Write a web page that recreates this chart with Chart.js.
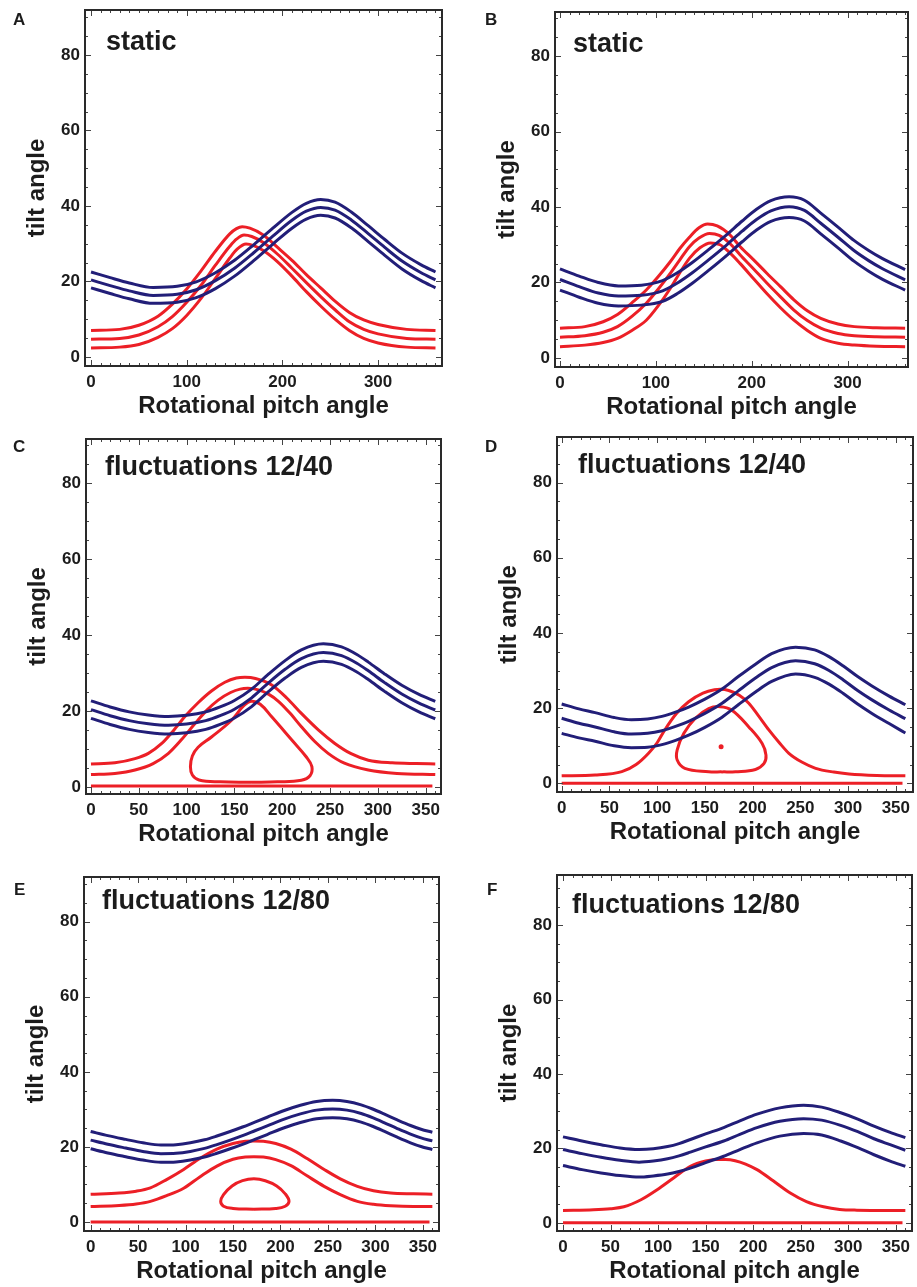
<!DOCTYPE html>
<html>
<head>
<meta charset="utf-8">
<script src="https://cdn.jsdelivr.net/npm/chart.js@4.4.0/dist/chart.umd.min.js"></script>
<style>
  html, body { margin: 0; padding: 0; background: #fff; overflow: hidden; }
  body { width: 917px; height: 1287px; position: relative; }
  canvas { position: absolute; }
</style>
</head>
<body>
<script>
// tick labels
const yTicks = [0, 20, 40, 60, 80];
const xTicksWide = [0, 100, 200, 300];
const xTicksFine = [0, 50, 100, 150, 200, 250, 300, 350];

const panelLetters = ['A', 'B', 'C', 'D', 'E', 'F'];
const panelTitles = ['static', 'static', 'fluctuations 12/40', 'fluctuations 12/40', 'fluctuations 12/80', 'fluctuations 12/80'];

// curves as [pitch, tilt] pairs
// A - static
const blueA1 = [[0,22.5],[20,21],[40,19.6],[65,18.4],[90,18.7],[110,19.9],[130,22.3],[150,25.6],[170,29.7],[190,34.1],[210,38.3],[225,40.7],[240,41.7],[255,41],[272,38.4],[290,34.7],[307,31.1],[325,27.5],[345,24.4],[360,22.5]];
const blueA2 = [[0,20.4],[20,18.9],[40,17.5],[65,16.3],[90,16.6],[110,17.8],[130,20.2],[150,23.5],[170,27.6],[190,32],[210,36.2],[225,38.6],[240,39.6],[255,38.9],[272,36.3],[290,32.6],[307,29],[325,25.4],[345,22.3],[360,20.4]];
const blueA3 = [[0,18.3],[20,16.8],[40,15.4],[65,14.2],[90,14.5],[110,15.7],[130,18.1],[150,21.4],[170,25.5],[190,29.9],[210,34.1],[225,36.5],[240,37.5],[255,36.8],[272,34.2],[290,30.5],[307,26.9],[325,23.3],[345,20.2],[360,18.3]];
const redA1 = [[0,7],[30,7.3],[50,8.4],[70,10.8],[85,14],[100,18],[115,22.8],[130,28],[145,32.6],[152,34],[158,34.5],[166,34.1],[180,32.3],[195,29],[210,25.6],[225,21.8],[240,18.3],[255,14.8],[270,11.8],[285,9.8],[300,8.6],[330,7.3],[360,7]];
const redA2 = [[0,4.7],[30,4.9],[50,5.8],[70,8],[85,10.7],[100,14.5],[115,19],[130,24.3],[145,29.3],[152,31.2],[160,32.3],[168,31.9],[180,30.3],[195,27.2],[210,23.5],[225,19.7],[240,16],[255,12.5],[270,9.3],[285,7.3],[300,6.1],[330,4.9],[360,4.7]];
const redA3 = [[0,2.4],[30,2.6],[50,3.3],[70,5.2],[85,7.5],[100,11],[115,15.5],[130,20.8],[145,26.2],[153,28.6],[162,29.9],[170,29.5],[180,28.2],[195,25.2],[210,21.4],[225,17.3],[240,13.5],[255,10],[270,7],[285,4.9],[300,3.7],[330,2.6],[360,2.4]];

// B - static
const blueB1 = [[0,23.6],[20,21.7],[40,20],[61,19.1],[85,19.3],[107,20.5],[122,22.5],[138,25.3],[155,28.7],[174,32.7],[190,36.3],[205,39.4],[220,41.7],[239,42.7],[255,41.8],[272,38.4],[290,34.7],[307,31.1],[322,28.5],[336,26.4],[360,23.4]];
const blueB2 = [[0,20.8],[20,18.9],[40,17.2],[61,16.4],[85,16.6],[107,17.8],[122,19.8],[138,22.6],[155,26],[174,30],[190,33.6],[205,36.7],[220,39],[239,40.1],[255,39.1],[272,35.7],[290,32],[307,28.4],[322,25.8],[336,23.7],[360,20.7]];
const blueB3 = [[0,18],[20,16.1],[40,14.5],[61,13.8],[85,14],[107,15],[122,17],[138,19.8],[155,23.2],[174,27.2],[190,30.8],[205,33.9],[220,36.2],[239,37.2],[255,36.3],[272,32.9],[290,29.2],[307,25.6],[322,23],[336,20.9],[360,18]];
const redB1 = [[0,7.9],[26,8.3],[45,9.6],[60,11.5],[75,14.6],[90,18],[103,21.7],[115,25.5],[125,29],[135,32],[145,34.5],[154,35.5],[164,35],[177,32.7],[188,29.5],[202,26],[216,22.4],[230,18.9],[244,15.4],[258,12.5],[272,10.5],[290,9],[307,8.3],[330,8],[360,7.9]];
const redB2 = [[0,5.5],[26,5.9],[45,6.8],[60,8.3],[75,11],[90,14.5],[103,18.4],[115,22.4],[125,26],[135,29.5],[145,31.8],[156,33],[166,32.5],[177,30.4],[188,27.3],[202,23.6],[216,19.8],[230,16.2],[244,12.7],[258,9.9],[272,7.9],[290,6.5],[307,5.9],[330,5.6],[360,5.5]];
const redB3 = [[0,3],[26,3.4],[45,4.1],[60,5.2],[75,7.3],[90,10],[103,14],[115,18.4],[125,22.6],[135,26.4],[146,29.2],[157,30.5],[167,30],[177,27.9],[188,25],[202,21],[216,17],[230,13.3],[244,10],[258,7.3],[272,5.2],[290,3.9],[307,3.4],[330,3.1],[360,3]];

// C - fluctuations 12/40
const blueC1 = [[0,22.7],[20,21.1],[40,19.8],[60,19],[81,18.6],[100,18.9],[120,19.8],[135,21.1],[150,22.8],[168,25.8],[185,29.6],[203,33.3],[220,36.1],[243,37.7],[262,36.9],[278,34.9],[290,32.9],[307,29.8],[325,26.8],[343,24.4],[360,22.6]];
const blueC2 = [[0,20.4],[20,18.8],[40,17.5],[60,16.7],[81,16.3],[100,16.6],[120,17.5],[135,18.8],[150,20.5],[168,23.5],[185,27.3],[203,31],[220,33.8],[243,35.4],[262,34.6],[278,32.6],[290,30.6],[307,27.5],[325,24.5],[343,22.1],[360,20.3]];
const blueC3 = [[0,18.1],[20,16.5],[40,15.2],[60,14.4],[81,14],[100,14.3],[120,15.2],[135,16.5],[150,18.2],[168,21.2],[185,25],[203,28.7],[220,31.5],[243,33.1],[262,32.3],[278,30.3],[290,28.3],[307,25.2],[325,22.2],[343,19.8],[360,18]];
const redC1 = [[0,6.1],[25,6.4],[46,7.5],[60,8.9],[74,11.5],[86,14.8],[98,18.5],[112,22.2],[126,25.3],[140,27.6],[152,28.7],[161,28.9],[172,28.6],[189,26.9],[205,23.4],[220,19.4],[238,15],[255,11.5],[272,8.8],[290,7.1],[315,6.4],[340,6.2],[360,6.1]];
const redC2 = [[0,3.3],[25,3.6],[46,4.5],[65,6.2],[81,8.9],[95,12.6],[109,16.8],[121,20.2],[133,22.9],[146,24.9],[156,25.8],[164,26],[175,25.6],[186,24.4],[196,22.6],[208,19.5],[220,15.9],[234,12],[248,8.9],[265,6.3],[290,4.5],[320,3.6],[360,3.3]];
const loopC = [[168,1.3],[135,1.4],[113,1.9],[106,3.2],[104,5.4],[106,8.2],[112,10.5],[126,13.2],[147,17.6],[160,21.5],[168,22.6],[177,21.8],[189,18.5],[210,12.4],[225,8],[231,5.4],[229,3],[220,1.8],[195,1.4],[168,1.3]];
const flatC = [[0,0.3],[357,0.3]];

// D - fluctuations 12/40
const blueD1 = [[0,21.1],[18,19.8],[35,18.8],[55,17.5],[73,16.9],[90,17.1],[105,17.8],[120,19],[133,20.3],[150,22.4],[168,25.1],[185,28.4],[203,31.7],[220,34.5],[245,36.2],[265,35.5],[280,33.7],[295,31.2],[310,28.4],[325,25.9],[343,23.2],[360,20.9]];
const blueD2 = [[0,17.3],[18,16],[35,15],[55,13.7],[73,13.1],[90,13.3],[105,14],[120,15.2],[133,16.5],[150,18.6],[168,21.3],[185,24.6],[203,28],[220,30.8],[245,32.6],[265,31.8],[280,30],[295,27.5],[310,24.7],[325,22.2],[343,19.5],[360,17.2]];
const blueD3 = [[0,13.3],[18,12.1],[35,11.2],[55,10],[73,9.5],[90,9.6],[105,10.3],[120,11.5],[133,12.8],[150,14.9],[168,17.6],[185,20.9],[203,24.3],[220,27.1],[245,29.1],[265,28.2],[280,26.4],[295,23.9],[310,21.1],[325,18.6],[343,15.9],[360,13.4]];
const redD1 = [[0,2],[35,2.2],[63,3.1],[78,5],[91,8],[100,10.8],[108,14.2],[120,18.5],[133,21.7],[148,24],[160,24.9],[166,25],[175,24.7],[186,23.4],[196,21.3],[206,18],[217,14.2],[228,10.8],[238,8],[252,5.6],[266,4],[285,3],[301,2.5],[330,2.1],[360,2]];
const loopD = [[168,3.05],[154,3.1],[129,4],[121,6.2],[121,8.9],[128,13.3],[140,17.3],[154,19.9],[166,20.4],[178,19.5],[196,15],[210,10.6],[214,7.5],[212,5.3],[203,3.7],[182,3.1],[168,3.05]];
const dotD = [[167,9.75]];
const flatD = [[0,0],[357,0]];

// E - fluctuations 12/80
const blueE1 = [[0,24.1],[18,23],[37,22],[55,21.1],[74,20.5],[90,20.6],[105,21.1],[120,21.9],[133,22.9],[147,24.1],[160,25.3],[173,26.6],[186,27.9],[204,29.7],[221,31.1],[238,32.1],[255,32.4],[270,32.1],[285,31.2],[297,30.1],[309,28.8],[323,27.2],[337,25.7],[348,24.7],[360,23.9]];
const blueE2 = [[0,21.8],[18,20.7],[37,19.7],[55,18.8],[74,18.2],[90,18.3],[105,18.8],[120,19.6],[133,20.6],[147,21.8],[160,23],[173,24.3],[186,25.6],[204,27.4],[221,28.8],[238,29.8],[255,30.1],[270,29.8],[285,28.9],[297,27.8],[309,26.5],[323,24.9],[337,23.4],[348,22.4],[360,21.6]];
const blueE3 = [[0,19.5],[18,18.4],[37,17.4],[55,16.5],[74,15.9],[90,16],[105,16.5],[120,17.3],[133,18.3],[147,19.5],[160,20.7],[173,22],[186,23.3],[204,25.1],[221,26.5],[238,27.5],[255,27.8],[270,27.5],[285,26.6],[297,25.5],[309,24.2],[323,22.6],[337,21.1],[348,20.1],[360,19.3]];
const redE1 = [[0,7.4],[30,7.7],[48,8.2],[63,9.1],[80,11.3],[98,14],[115,16.9],[133,19.4],[150,20.9],[163,21.5],[172,21.6],[182,21.5],[195,20.9],[211,19.4],[228,16.9],[246,14],[263,11.5],[281,9.5],[298,8.3],[316,7.7],[340,7.5],[360,7.4]];
const redE2 = [[0,4.1],[30,4.4],[48,4.8],[63,5.5],[80,7],[98,9],[115,12],[133,14.9],[150,16.7],[163,17.3],[172,17.4],[182,17.3],[195,16.6],[211,15],[228,12.3],[246,9.5],[263,7.3],[281,5.5],[298,4.7],[316,4.3],[340,4.1],[360,4.1]];
const loopE = [[172,3.4],[150,3.6],[140,4.2],[137,5.5],[140,7.3],[149,9.6],[160,11],[172,11.5],[184,11],[196,9.6],[205,7.5],[209,5.5],[205,4.2],[195,3.6],[172,3.4]];
const flatE = [[0,0],[357,0]];

// F - fluctuations 12/80
const blueF1 = [[0,23.1],[20,22],[40,21],[60,20.1],[80,19.7],[95,19.9],[110,20.5],[122,21.3],[134,22.4],[150,23.9],[169,25.6],[186,27.4],[204,29.2],[228,30.9],[253,31.6],[272,31.1],[292,29.6],[310,27.9],[327,26],[344,24.3],[360,22.9]];
const blueF2 = [[0,19.7],[20,18.6],[40,17.6],[60,16.8],[80,16.3],[95,16.6],[110,17.2],[122,18],[134,19],[150,20.4],[169,22],[186,23.8],[204,25.6],[228,27.3],[253,28],[272,27.6],[292,26.2],[310,24.5],[327,22.6],[344,21],[360,19.5]];
const blueF3 = [[0,15.4],[20,14.3],[40,13.4],[60,12.7],[80,12.3],[95,12.6],[110,13.1],[122,13.8],[134,14.7],[150,16.2],[169,17.9],[186,19.7],[204,21.5],[228,23.3],[253,24],[272,23.6],[292,22],[310,20.2],[327,18.3],[344,16.6],[360,15.2]];
const redF1 = [[0,3.3],[32,3.5],[50,3.8],[64,4.3],[82,6.2],[99,8.9],[117,12.2],[134,15.2],[150,16.6],[161,17],[171,17],[181,16.7],[192,15.8],[204,14.3],[221,11.3],[239,8],[256,5.7],[274,4.3],[291,3.6],[309,3.4],[360,3.3]];
const flatF = [[0,0],[357,0]];

const panelCurves = [
  { blue: [blueA1, blueA2, blueA3], red: [redA1, redA2, redA3], loops: [], dots: [] },
  { blue: [blueB1, blueB2, blueB3], red: [redB1, redB2, redB3], loops: [], dots: [] },
  { blue: [blueC1, blueC2, blueC3], red: [redC1, redC2, flatC], loops: [loopC], dots: [] },
  { blue: [blueD1, blueD2, blueD3], red: [redD1, flatD], loops: [loopD], dots: dotD },
  { blue: [blueE1, blueE2, blueE3], red: [redE1, redE2, flatE], loops: [loopE], dots: [] },
  { blue: [blueF1, blueF2, blueF3], red: [redF1, flatF], loops: [], dots: [] },
];

// layout of each panel on the page (plot box in page px, axis ranges, text offsets)
const layout = [
  { box: [85, 10, 442, 366],  x: [-6.3, 366.8], y: [-2.4, 91.9], xt: xTicksWide, letter: [-72, 15], title: [21, 40] },
  { box: [555, 12, 908, 367], x: [-5.2, 363],   y: [-2.4, 91.7], xt: xTicksWide, letter: [-70, 13], title: [18, 40] },
  { box: [86, 439, 441, 794], x: [-5.2, 366],   y: [-1.8, 91.6], xt: xTicksFine, letter: [-73, 13], title: [19, 36] },
  { box: [557, 437, 913, 792], x: [-4.9, 368],  y: [-2.3, 92.1], xt: xTicksFine, letter: [-72, 15], title: [21, 36] },
  { box: [84, 877, 439, 1231], x: [-7, 367],    y: [-2.4, 91.9], xt: xTicksFine, letter: [-70, 18], title: [18, 32] },
  { box: [557, 875, 912, 1231], x: [-6.3, 367], y: [-2.2, 93.5], xt: xTicksFine, letter: [-70, 20], title: [15, 38] },
];

const BLUE = '#221e78';
const RED = '#ec1f26';
const INK = '#1c1c1c';
const FONT = '"Liberation Sans", Arial, sans-serif';
Chart.defaults.font.family = FONT;

const toXY = pts => pts.map(p => ({ x: p[0], y: p[1] }));

function framePlugin(letter, title, L) {
  return {
    id: 'frame',
    afterDraw(chart) {
      const { ctx, chartArea: a, scales: { x, y } } = chart;
      ctx.save();
      ctx.strokeStyle = '#444';
      ctx.lineWidth = 1;
      ctx.beginPath();
      for (let v = 0; v <= 360; v += 10) {
        const px = Math.round(x.getPixelForValue(v)) + 0.5;
        const len = L.xt.includes(v) ? 6 : 3;
        ctx.moveTo(px, a.bottom); ctx.lineTo(px, a.bottom - len);
        ctx.moveTo(px, a.top); ctx.lineTo(px, a.top + len);
      }
      for (let v = 0; v <= 90; v += 5) {
        const py = Math.round(y.getPixelForValue(v)) + 0.5;
        const len = yTicks.includes(v) ? 6 : 3;
        ctx.moveTo(a.left, py); ctx.lineTo(a.left + len, py);
        ctx.moveTo(a.right, py); ctx.lineTo(a.right - len, py);
      }
      ctx.stroke();
      ctx.lineWidth = 2;
      ctx.strokeStyle = '#2a2a2a';
      ctx.strokeRect(a.left, a.top, a.right - a.left, a.bottom - a.top);

      ctx.fillStyle = INK;
      ctx.textAlign = 'left';
      ctx.textBaseline = 'alphabetic';
      ctx.font = 'bold 27px ' + FONT;
      ctx.fillText(title, a.left + L.title[0], a.top + L.title[1]);
      ctx.font = 'bold 17px ' + FONT;
      ctx.fillText(letter, a.left + L.letter[0], a.top + L.letter[1]);
      ctx.restore();
    }
  };
}

layout.forEach((L, i) => {
  const curves = panelCurves[i];
  const left = L.box[0] - 84;
  const top = L.box[1] - 10;
  const right = Math.min(917, L.box[2] + 18);
  const w = right - left;
  const h = (L.box[3] - L.box[1]) + 10 + 56;

  const canvas = document.createElement('canvas');
  canvas.width = w;
  canvas.height = h;
  canvas.style.left = left + 'px';
  canvas.style.top = top + 'px';
  canvas.style.width = w + 'px';
  canvas.style.height = h + 'px';
  document.body.appendChild(canvas);

  const datasets = [];
  curves.blue.forEach(c => datasets.push({
    data: toXY(c), borderColor: BLUE, borderWidth: 3, pointRadius: 0,
    cubicInterpolationMode: 'monotone', borderJoinStyle: 'round', fill: false
  }));
  curves.red.forEach(c => datasets.push({
    data: toXY(c), borderColor: RED, borderWidth: 3, pointRadius: 0,
    cubicInterpolationMode: 'monotone', borderJoinStyle: 'round', fill: false
  }));
  curves.loops.forEach(c => datasets.push({
    data: toXY(c), borderColor: RED, borderWidth: 3, pointRadius: 0,
    tension: 0.4, borderJoinStyle: 'round', fill: false
  }));
  if (curves.dots.length) datasets.push({
    data: toXY(curves.dots), showLine: false, pointRadius: 2.5,
    pointBackgroundColor: RED, pointBorderColor: RED, pointBorderWidth: 0
  });

  const tickFont = { size: 17, weight: 'bold', family: FONT };
  const titleFont = { size: 24, weight: 'bold', family: FONT };

  new Chart(canvas, {
    type: 'line',
    data: { datasets },
    options: {
      responsive: false,
      animation: false,
      events: [],
      layout: { padding: { left: 0, top: 10, right: right - L.box[2], bottom: 0 } },
      plugins: { legend: { display: false }, tooltip: { enabled: false } },
      scales: {
        x: {
          type: 'linear', min: L.x[0], max: L.x[1],
          afterBuildTicks: s => { s.ticks = L.xt.map(v => ({ value: v })); },
          afterFit: s => { s.height = 56; s.paddingLeft = 0; s.paddingRight = 0; },
          grid: { display: false, drawTicks: false },
          border: { display: false },
          ticks: { font: tickFont, color: INK, padding: 6, maxRotation: 0, autoSkip: false },
          title: { display: true, text: 'Rotational pitch angle', font: titleFont, color: INK, padding: { top: 0, bottom: 1.6 } }
        },
        y: {
          type: 'linear', min: L.y[0], max: L.y[1],
          afterBuildTicks: s => { s.ticks = yTicks.map(v => ({ value: v })); },
          afterFit: s => { s.width = 84; s.paddingTop = 0; s.paddingBottom = 0; },
          grid: { display: false, drawTicks: false },
          border: { display: false },
          ticks: { font: tickFont, color: INK, padding: 5, autoSkip: false },
          title: { display: true, text: 'tilt angle', font: titleFont, color: INK, padding: { top: 21.6, bottom: 0 } }
        }
      }
    },
    plugins: [framePlugin(panelLetters[i], panelTitles[i], L)]
  });
});
</script>
</body>
</html>
